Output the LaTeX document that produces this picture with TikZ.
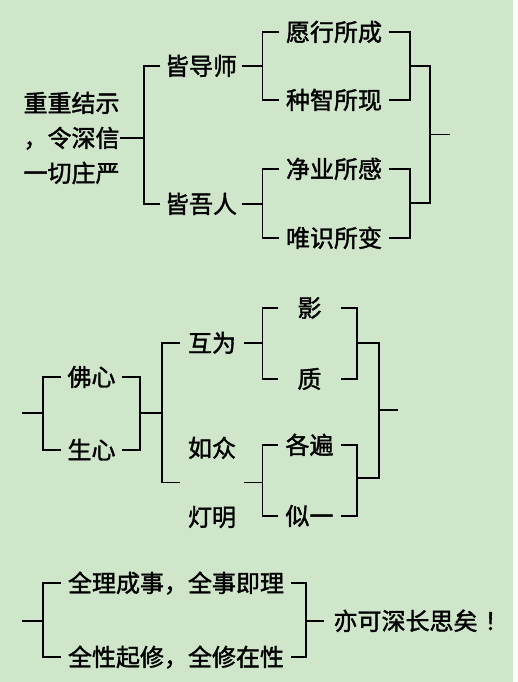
\documentclass[tikz,border=0pt]{standalone}
\usepackage{fontspec}
\usepackage{xcolor}
\usepackage{tikz}
\usetikzlibrary{calc}
\newfontfamily\cjk[FakeBold=1.6]{Noto Sans CJK SC}
\definecolor{bgpaper}{RGB}{207,230,203}

\tikzset{
  lbl/.style={font=\cjk\fontsize{24}{35}\selectfont, inner xsep=4pt, inner ysep=0pt,
    text height=20pt, text depth=2pt},
  lvA/.style={lbl, minimum width=80pt},
  lvB/.style={lbl, minimum width=108pt},
  lvC/.style={lbl, minimum width=59pt},
  lvD/.style={lbl, minimum width=63pt},
  lvE/.style={lbl, minimum width=61pt},
  lvF/.style={lbl, minimum width=228pt},
}

\begin{document}
\begin{tikzpicture}[x=1pt,y=-1pt,line width=1.1pt]
       \fill[bgpaper] (0,0) rectangle (513,682);
       
       \node[font=\cjk\fontsize{24}{35}\selectfont, align=left, inner sep=0pt, anchor=west] (root) at (23,138) {重重结示\\，令深信\\一切庄严};
       
       \node[lvA] (daoshi) at (201,66) {皆导师};
       \node[lvA] (wuren) at (201,204) {皆吾人};
       
       \node[lvB] (yuan) at (334,32) {愿行所成};
       \node[lvB] (zhong) at (334,100) {种智所现};
       \node[lvB] (jing) at (334,169) {净业所感};
       \node[lvB] (wei) at (334,238) {唯识所变};
       
       \coordinate (j1) at (144,138);
       \coordinate (m1) at (410,66);
       \coordinate (m2) at (410,203);
       
       \draw (root.east) -- (j1);
       \draw (daoshi.west) -| (j1) |- (wuren.west);
       
       \draw (daoshi.east) -- ++(21,0);
       \draw (yuan.west) -| ($(daoshi.east)+(21,0)$) |- (zhong.west);
       \draw (wuren.east) -- ++(21,0);
       \draw (jing.west) -| ($(wuren.east)+(21,0)$) |- (wei.west);
       
       \draw (yuan.east) -| (m1) |- (zhong.east);
       \draw (jing.east) -| (m2) |- (wei.east);
       \draw (m1) -- ++(20,0) |- (m2);
       \draw ($(m1)!0.5!(m2)+(20,0)$) -- ++(20,0);
       
       \node[lvC] (foxin) at (91.5,377) {佛心};
       \node[lvC] (shengxin) at (91.5,450) {生心};
       
       \node[lvD] (huwei) at (212,343) {互为};
       \node[lvD] (ruzhong) at (212,448) {如众};
       \node[lvD] (dengming) at (212,517) {灯明};
       
       \node[lvE] (ying) at (309.5,308) {影};
       \node[lvE] (zhi) at (309.5,379) {质};
       \node[lvE] (gebian) at (309.5,445) {各遍};
       \node[lvE] (siyi) at (309.5,516) {似一};
       
       \coordinate (k1) at (43,413);
       \coordinate (k2) at (140,413);
       \coordinate (k3) at (162,413);
       \coordinate (rdW) at ($(ruzhong.west)!0.5!(dengming.west)$);
       \coordinate (rdE) at ($(ruzhong.east)!0.5!(dengming.east)$);
       \coordinate (n1) at (357,343);
       \coordinate (n2) at (357,478);
       \coordinate (n3) at (379,410);
       
       \draw (k1) -- ++(-21,0);
       \draw (foxin.west) -| (k1) |- (shengxin.west);
       \draw (foxin.east) -| (k2) |- (shengxin.east);
       \draw (k2) -- (k3);
       \draw (huwei.west) -| (k3) |- (rdW);
       
       \draw (huwei.east) -- ++(18,0);
       \draw (ying.west) -| ($(huwei.east)+(18,0)$) |- (zhi.west);
       \draw (rdE) -- ++(18,0);
       \draw (gebian.west) -| ($(rdE)+(18,0)$) |- (siyi.west);
       
       \draw (ying.east) -| (n1) |- (zhi.east);
       \draw (gebian.east) -| (n2) |- (siyi.east);
       \draw (n1) -| (n3) |- (n2);
       \draw[line width=2.4pt] (361,343) -- (376,343);
       \draw (n3) -- ++(19,0);
       
       \node[lvF] (li) at (176,583) {全理成事，全事即理};
       \node[lvF] (xing) at (176,657) {全性起修，全修在性};
       \node[lbl, inner xsep=9pt, anchor=west] (sigan) at (324,621) {亦可深长思矣\hspace{7pt}！};
       
       \coordinate (p1) at (43,621);
       \coordinate (p2) at (306,621);
       
       \draw (p1) -- ++(-21,0);
       \draw (li.west) -| (p1) |- (xing.west);
       \draw (li.east) -| (p2) |- (xing.east);
       \draw (p2) -- (sigan.west);
\end{tikzpicture}
\end{document}
